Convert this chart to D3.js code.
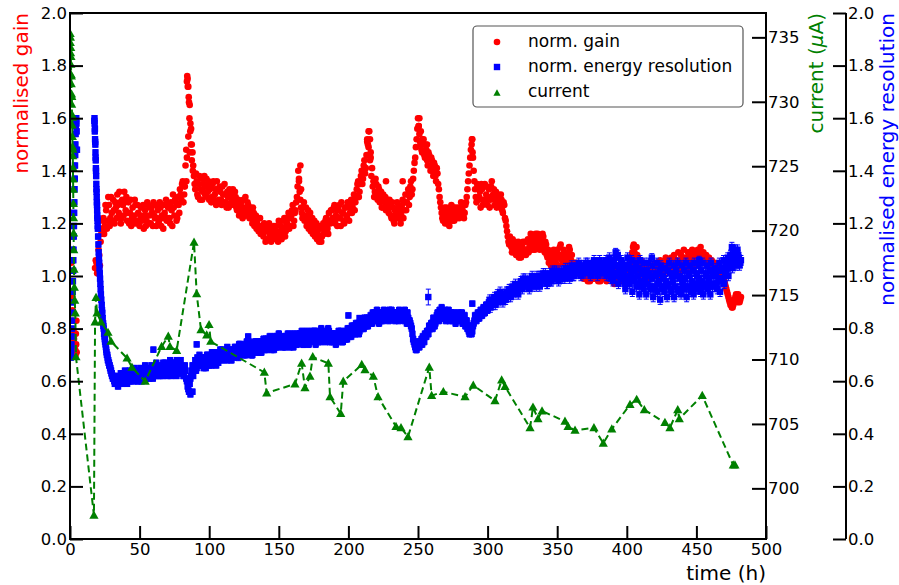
<!DOCTYPE html>
<html>
<head>
<meta charset="utf-8">
<script src="https://cdn.jsdelivr.net/npm/d3@7"></script>
<style>
  body { margin: 0; background: #fff; }
  svg { display: block; }
  text { font-family: "DejaVu Sans", sans-serif; }
</style>
</head>
<body>
<svg id="chart" width="899" height="585"></svg>
<script>
// ---------- tick labels ----------
const timeTicks = [0, 50, 100, 150, 200, 250, 300, 350, 400, 450, 500];
const normTicks = [0, 0.2, 0.4, 0.6, 0.8, 1.0, 1.2, 1.4, 1.6, 1.8, 2.0];
const currentTicks = [700, 705, 710, 715, 720, 725, 730, 735];

// ---------- normalised gain ----------
// first run, [time (h), gain]
const gainEarly = [[0.3,1.24],[0.6,1.15],[0.9,1.05],[1.2,0.98],[1.5,0.92],[1.8,0.87],[2.1,0.83],
  [2.5,0.79],[2.9,0.76],[3.3,0.74],[3.7,0.72],[4.0,0.70],[4.2,0.78],[4.4,0.74],[4.6,0.83],[4.8,0.71]];
// second run, readings on the hour starting at gainStart
const gainStart = 18;
const gainHourly = [
  1.03,1.05,1.02,1.08,1.13,1.18,1.22,1.19,1.25,1.21,
  1.27,1.22,1.24,1.29,1.20,1.26,1.31,1.24,1.28,1.22,
  1.27,1.32,1.25,1.21,1.28,1.24,1.19,1.26,1.23,1.27,
  1.21,1.24,1.19,1.26,1.22,1.18,1.25,1.21,1.27,1.23,
  1.20,1.24,1.28,1.22,1.19,1.25,1.21,1.26,1.23,1.18,
  1.24,1.29,1.22,1.27,1.20,1.25,1.31,1.23,1.28,1.22,
  1.27,1.33,1.29,1.36,1.31,1.42,1.74,1.72,1.65,1.56,
  1.47,1.38,1.33,1.36,1.30,1.38,1.33,1.29,1.35,1.31,
  1.37,1.32,1.29,1.34,1.30,1.36,1.31,1.27,1.33,1.29,
  1.32,1.27,1.31,1.35,1.28,1.32,1.26,1.30,1.28,1.33,
  1.27,1.30,1.25,1.29,1.24,1.28,1.22,1.26,1.30,1.23,
  1.27,1.22,1.25,1.20,1.24,1.21,1.18,1.22,1.19,1.16,
  1.19,1.15,1.18,1.14,1.17,1.20,1.15,1.18,1.14,1.17,
  1.19,1.15,1.21,1.17,1.14,1.18,1.22,1.17,1.20,1.24,
  1.19,1.23,1.27,1.21,1.25,1.30,1.40,1.32,1.26,1.22,
  1.28,1.23,1.19,1.25,1.21,1.17,1.22,1.18,1.15,1.20,
  1.16,1.13,1.18,1.15,1.20,1.17,1.22,1.18,1.24,1.20,
  1.25,1.21,1.27,1.23,1.19,1.25,1.22,1.28,1.24,1.20,
  1.26,1.22,1.27,1.24,1.29,1.26,1.31,1.28,1.33,1.36,
  1.32,1.38,1.35,1.42,1.39,1.46,1.50,1.55,1.47,1.41,
  1.36,1.32,1.35,1.29,1.33,1.30,1.26,1.31,1.28,1.25,
  1.29,1.24,1.27,1.22,1.26,1.20,1.24,1.28,1.22,1.26,
  1.23,1.29,1.25,1.31,1.28,1.33,1.30,1.36,1.33,1.40,
  1.45,1.52,1.60,1.54,1.50,1.47,1.52,1.45,1.48,1.42,
  1.46,1.40,1.44,1.38,1.42,1.36,1.39,1.33,1.28,1.24,
  1.21,1.26,1.23,1.20,1.25,1.22,1.27,1.24,1.21,1.26,
  1.23,1.26,1.24,1.28,1.25,1.22,1.27,1.30,1.36,1.42,
  1.48,1.52,1.40,1.33,1.28,1.34,1.30,1.26,1.33,1.29,
  1.35,1.31,1.27,1.33,1.29,1.36,1.31,1.27,1.32,1.28,
  1.30,1.26,1.29,1.24,1.27,1.21,1.17,1.13,1.15,1.11,
  1.14,1.09,1.12,1.08,1.13,1.10,1.07,1.11,1.09,1.13,
  1.10,1.14,1.11,1.16,1.12,1.15,1.10,1.13,1.16,1.12,
  1.14,1.11,1.15,1.09,1.12,1.07,1.05,1.09,1.06,1.04,
  1.08,1.05,1.10,1.07,1.11,1.08,1.05,1.09,1.06,1.04,
  1.07,1.10,1.06,1.03,1.05,1.02,1.04,1.01,1.03,1.00,
  1.02,0.99,1.03,1.01,0.98,1.02,1.00,1.03,0.99,1.01,
  1.04,1.00,1.02,0.98,1.01,1.03,0.99,1.02,1.00,1.04,
  1.01,0.99,1.02,0.97,1.00,1.03,0.99,1.01,0.98,1.02,
  1.00,1.03,1.01,1.04,1.00,1.06,1.09,1.12,1.08,1.11,
  1.07,1.04,1.06,1.02,1.05,1.01,1.04,1.00,1.03,1.01,
  1.04,1.00,1.02,1.05,1.01,1.03,1.06,1.02,1.05,1.03,
  1.07,1.04,1.06,1.03,1.07,1.05,1.08,1.04,1.06,1.09,
  1.05,1.08,1.06,1.10,1.07,1.05,1.09,1.06,1.08,1.10,
  1.07,1.09,1.06,1.10,1.08,1.11,1.07,1.09,1.06,1.08,
  1.05,1.07,1.04,1.06,1.03,1.05,1.02,1.04,1.01,1.03,
  1.00,1.02,0.98,0.96,0.94,0.92,0.90,0.89,0.88,0.90,
  0.92,0.91,0.93,0.90,0.92
];
// second run, readings on the half hour starting at gainStart + 0.5
const gainHalfHourly = [
  1.06,1.01,1.10,1.04,1.16,1.21,1.16,1.27,1.18,1.30,
  1.19,1.30,1.21,1.25,1.28,1.22,1.27,1.32,1.20,1.29,
  1.23,1.28,1.30,1.24,1.20,1.29,1.22,1.20,1.29,1.20,
  1.27,1.20,1.23,1.21,1.27,1.23,1.19,1.28,1.20,1.26,
  1.26,1.19,1.23,1.27,1.22,1.20,1.28,1.19,1.27,1.22,
  1.27,1.21,1.26,1.22,1.28,1.19,1.26,1.29,1.21,1.30,
  1.24,1.31,1.35,1.28,1.34,1.48,1.75,1.66,1.58,1.50,
  1.42,1.35,1.39,1.31,1.35,1.29,1.37,1.32,1.38,1.34,
  1.30,1.36,1.33,1.28,1.35,1.29,1.33,1.36,1.28,1.34,
  1.29,1.34,1.28,1.31,1.26,1.30,1.33,1.27,1.31,1.29,
  1.32,1.26,1.28,1.23,1.27,1.25,1.29,1.23,1.25,1.28,
  1.24,1.26,1.22,1.26,1.19,1.23,1.20,1.17,1.22,1.18,
  1.16,1.20,1.13,1.17,1.19,1.16,1.13,1.16,1.19,1.15,
  1.17,1.13,1.16,1.19,1.16,1.21,1.15,1.19,1.22,1.18,
  1.22,1.25,1.19,1.24,1.28,1.34,1.36,1.29,1.24,1.26,
  1.21,1.26,1.22,1.18,1.24,1.20,1.16,1.21,1.17,1.14,
  1.19,1.15,1.13,1.19,1.16,1.21,1.19,1.16,1.21,1.25,
  1.22,1.26,1.20,1.25,1.22,1.27,1.19,1.24,1.21,1.26,
  1.23,1.28,1.21,1.26,1.24,1.28,1.25,1.30,1.35,1.30,
  1.35,1.40,1.37,1.44,1.41,1.52,1.49,1.44,1.38,1.34,
  1.30,1.37,1.31,1.34,1.28,1.32,1.29,1.26,1.30,1.27,
  1.25,1.29,1.23,1.28,1.21,1.25,1.22,1.26,1.24,1.20,
  1.27,1.22,1.28,1.25,1.31,1.27,1.34,1.31,1.37,1.43,
  1.49,1.56,1.57,1.51,1.48,1.50,1.46,1.50,1.44,1.47,
  1.42,1.45,1.40,1.43,1.38,1.41,1.35,1.30,1.26,1.22,
  1.24,1.20,1.26,1.22,1.19,1.24,1.21,1.26,1.23,1.22,
  1.25,1.22,1.26,1.23,1.27,1.24,1.28,1.33,1.39,1.45,
  1.50,1.45,1.36,1.30,1.35,1.29,1.32,1.35,1.27,1.34,
  1.29,1.34,1.30,1.26,1.34,1.30,1.33,1.29,1.26,1.31,
  1.27,1.31,1.25,1.28,1.22,1.19,1.15,1.12,1.13,1.09,
  1.11,1.13,1.08,1.10,1.07,1.12,1.09,1.13,1.10,1.08,
  1.13,1.09,1.12,1.14,1.10,1.13,1.16,1.11,1.14,1.10,
  1.12,1.16,1.10,1.13,1.08,1.10,1.07,1.04,1.08,1.10,
  1.06,1.09,1.04,1.08,1.12,1.06,1.10,1.07,1.03,1.08,
  1.11,1.05,1.08,1.04,1.02,1.05,1.02,1.04,1.01,1.03,
  1.00,1.02,0.99,1.03,1.00,0.98,1.02,1.00,1.02,0.99,
  1.02,0.98,1.01,1.03,0.99,1.01,1.03,0.98,1.02,1.00,
  1.03,1.00,0.98,1.01,1.02,0.98,1.01,0.99,1.02,1.00,
  1.02,0.99,1.03,1.01,1.04,1.08,1.11,1.09,1.06,1.08,
  1.05,1.02,1.04,1.03,1.00,1.03,1.01,1.02,0.99,1.03,
  1.01,1.03,1.00,1.02,1.04,1.00,1.03,1.05,1.01,1.04,
  1.02,1.05,1.03,1.06,1.02,1.04,1.03,1.06,1.04,1.02,
  1.04,1.02,1.05,1.03,1.06,1.03,1.04,1.07,1.05,1.03,
  1.06,1.04,1.08,1.05,1.09,1.06,1.08,1.05,1.07,1.04,
  1.06,1.03,1.05,1.02,1.04,1.01,1.03,1.00,1.02,0.99,
  1.01,0.99,0.97,0.95,0.93,0.91,0.89,0.88,0.89,0.91,
  0.93,0.90,0.92,0.91
];
// extra readings inside the fast excursions, [time (h), gain]
const gainExtra = [[83.6,1.36],[84.0,1.45],[84.2,1.76],[84.6,1.72],[85.0,1.53],[85.3,1.68],[85.8,1.60],
  [86.0,1.47],[86.4,1.55],[86.9,1.50],[87.5,1.44],[88.2,1.40],[164.5,1.37],[165.5,1.42],[166.0,1.33],
  [213.5,1.51],[214.5,1.55],[215.5,1.52],[216.0,1.45],[227.0,1.36],[239.0,1.36],[250.5,1.57],[251.0,1.60],
  [252.0,1.55],[253.0,1.52],[288.7,1.52],[289.2,1.47],[256.5,1.50]];

// ---------- normalised energy resolution ----------
const resEarly = [[0.6,0.69],[0.75,0.70],[0.9,0.72],[1.05,0.74],[1.2,0.77],[1.35,0.80],[1.5,0.83],
  [1.65,0.86],[1.8,0.90],[1.95,0.94],[2.1,0.98],[2.25,1.02],[2.4,1.06],[2.55,1.10],[2.7,1.15],
  [2.85,1.19],[3.0,1.24],[3.15,1.28],[3.3,1.33],[3.45,1.37],[3.6,1.42],[3.75,1.46],[3.9,1.50],
  [4.05,1.54],[4.2,1.57],[4.35,1.59],[4.5,1.60],[4.65,1.58],[4.8,1.55],[5.0,1.48]];
const resDecay = [[17.5,1.59],[17.6,1.60],[17.7,1.58],[17.8,1.55],[17.9,1.56],[18.0,1.52],[18.1,1.51],
  [18.2,1.50],[18.3,1.47],[18.4,1.45],[18.5,1.44],[18.6,1.41],[18.7,1.40],[18.8,1.38],[18.9,1.35],
  [19.0,1.33],[19.1,1.32],[19.2,1.30],[19.3,1.28],[19.4,1.27],[19.5,1.25],[19.6,1.23],[19.7,1.22],
  [19.8,1.21],[19.9,1.19],[20.0,1.18],[20.2,1.15],[20.4,1.12],[20.6,1.09],[20.8,1.07],[21.0,1.05],
  [21.2,1.03],[21.4,1.01],[21.6,0.99],[21.8,0.97],[22.0,0.95],[22.2,0.93],[22.5,0.91],[22.8,0.89],
  [23.0,0.87],[23.2,0.86],[23.5,0.84],[23.8,0.82],[24.0,0.81],[24.2,0.80],[24.5,0.78],[24.8,0.77],
  [25.0,0.76],[25.2,0.75],[25.5,0.74],[25.8,0.73],[26.0,0.72],[26.2,0.71],[26.5,0.70],[26.8,0.70],
  [27.0,0.69],[27.2,0.68],[27.5,0.68],[27.8,0.67],[28.0,0.67],[28.2,0.66],[28.5,0.66],[28.8,0.65],
  [29.0,0.65],[29.2,0.64],[29.5,0.64],[29.8,0.63],[30.0,0.63],[30.2,0.62],[30.5,0.62],[30.8,0.61],
  [31.0,0.62],[31.2,0.61],[31.5,0.61],[31.8,0.60],[32.0,0.61],[32.2,0.59],[32.5,0.60],[32.8,0.59],
  [33.0,0.60],[33.3,0.59],[33.7,0.60]];
const resStart = 34;
const resHourly = [
  0.60,0.62,0.59,0.61,0.63,0.60,0.62,0.59,0.61,0.64,
  0.60,0.62,0.65,0.61,0.63,0.60,0.62,0.64,0.61,0.63,
  0.66,0.62,0.64,0.61,0.63,0.65,0.62,0.64,0.67,0.63,
  0.65,0.62,0.64,0.67,0.63,0.66,0.62,0.65,0.68,0.64,
  0.66,0.63,0.65,0.68,0.64,0.66,0.63,0.65,0.62,0.64,
  0.60,0.57,0.59,0.62,0.66,0.64,0.68,0.65,0.67,0.70,
  0.66,0.68,0.65,0.69,0.67,0.70,0.66,0.68,0.71,0.67,
  0.69,0.66,0.70,0.68,0.72,0.69,0.71,0.68,0.70,0.73,
  0.69,0.71,0.68,0.72,0.70,0.73,0.71,0.69,0.74,0.71,
  0.73,0.70,0.72,0.75,0.71,0.74,0.72,0.70,0.73,0.75,
  0.72,0.74,0.71,0.75,0.73,0.76,0.72,0.74,0.76,0.73,
  0.75,0.72,0.74,0.77,0.73,0.75,0.78,0.74,0.76,0.73,
  0.75,0.77,0.74,0.76,0.73,0.75,0.78,0.75,0.77,0.74,
  0.76,0.78,0.75,0.77,0.74,0.76,0.79,0.75,0.77,0.76,
  0.78,0.75,0.77,0.79,0.76,0.78,0.75,0.77,0.79,0.76,
  0.78,0.76,0.79,0.77,0.75,0.78,0.76,0.74,0.77,0.79,
  0.76,0.78,0.75,0.77,0.79,0.76,0.78,0.80,0.77,0.79,
  0.81,0.78,0.80,0.82,0.79,0.81,0.83,0.80,0.82,0.84,
  0.81,0.83,0.85,0.82,0.84,0.86,0.83,0.85,0.82,0.84,
  0.86,0.83,0.85,0.84,0.86,0.83,0.85,0.87,0.84,0.86,
  0.84,0.86,0.83,0.85,0.84,0.86,0.83,0.85,0.82,0.84,
  0.83,0.81,0.78,0.75,0.73,0.72,0.74,0.73,0.75,0.74,
  0.76,0.78,0.77,0.79,0.81,0.80,0.82,0.84,0.81,0.83,
  0.86,0.83,0.85,0.88,0.84,0.86,0.83,0.85,0.87,0.84,
  0.86,0.83,0.85,0.82,0.84,0.86,0.83,0.85,0.82,0.84,
  0.81,0.83,0.80,0.78,0.81,0.79,0.82,0.85,0.83,0.86,
  0.84,0.87,0.85,0.88,0.86,0.89,0.87,0.90,0.88,0.91,
  0.89,0.92,0.90,0.93,0.91,0.94,0.92,0.90,0.93,0.91,
  0.94,0.92,0.95,0.93,0.96,0.94,0.97,0.95,0.93,0.96,
  0.98,0.95,0.97,0.99,0.96,0.98,0.95,0.97,1.00,0.97,
  0.99,0.96,0.98,1.00,0.97,0.99,1.01,0.98,1.00,0.97,
  0.99,1.01,0.98,1.00,1.02,0.99,1.01,0.98,1.00,1.02,
  0.99,1.01,1.03,1.00,1.02,0.99,1.01,1.03,1.00,1.02,
  1.04,1.01,1.03,1.00,1.02,1.04,1.01,1.03,1.05,1.02,
  1.00,1.03,1.01,1.04,1.02,1.00,1.03,1.05,1.02,1.04,
  1.01,1.06,1.03,1.00,1.05,1.02,0.98,1.04,1.07,1.01,
  0.97,1.03,1.06,0.99,1.02,0.95,1.00,1.04,0.97,1.01,
  0.94,0.99,1.03,0.96,1.00,0.93,0.98,1.02,0.95,0.99,
  0.93,0.97,1.01,0.95,0.99,0.92,0.96,1.00,0.94,0.98,
  0.91,0.96,1.00,0.94,0.98,0.92,0.97,1.01,0.94,0.98,
  0.92,0.96,1.00,0.94,0.99,0.93,0.97,0.95,0.99,0.92,
  0.96,1.00,0.94,0.98,0.93,0.97,1.01,0.95,0.99,0.94,
  0.98,0.93,0.97,1.00,0.95,0.99,0.93,0.97,1.01,0.96,
  1.00,0.95,0.99,0.94,0.98,1.02,0.97,1.01,1.04,1.00,
  1.05,1.08,1.03,1.07,1.10,1.05,1.08,1.04,1.06
];
const resHalfHourly = [
  0.58,0.61,0.63,0.59,0.62,0.64,0.60,0.63,0.60,0.62,
  0.63,0.60,0.62,0.64,0.60,0.63,0.65,0.60,0.64,0.62,
  0.61,0.65,0.62,0.64,0.66,0.61,0.64,0.62,0.65,0.62,
  0.63,0.66,0.62,0.65,0.67,0.63,0.66,0.64,0.62,0.67,
  0.64,0.67,0.62,0.66,0.63,0.68,0.64,0.62,0.66,0.61,
  0.58,0.56,0.61,0.64,0.62,0.66,0.64,0.69,0.66,0.68,
  0.69,0.66,0.68,0.65,0.70,0.67,0.69,0.66,0.70,0.68,
  0.67,0.71,0.67,0.70,0.68,0.72,0.69,0.71,0.68,0.71,
  0.72,0.68,0.71,0.69,0.73,0.70,0.72,0.74,0.70,0.72,
  0.71,0.74,0.70,0.73,0.75,0.72,0.70,0.74,0.72,0.71,
  0.75,0.72,0.74,0.71,0.75,0.73,0.76,0.72,0.74,0.77,
  0.73,0.76,0.72,0.75,0.77,0.73,0.76,0.74,0.77,0.75,
  0.73,0.76,0.78,0.74,0.77,0.75,0.73,0.77,0.74,0.78,
  0.75,0.77,0.79,0.74,0.78,0.75,0.77,0.74,0.78,0.79,
  0.76,0.79,0.74,0.78,0.75,0.77,0.80,0.76,0.78,0.75,
  0.77,0.80,0.75,0.78,0.77,0.75,0.78,0.76,0.75,0.78,
  0.79,0.75,0.78,0.76,0.78,0.80,0.77,0.79,0.81,0.78,
  0.79,0.82,0.80,0.78,0.82,0.80,0.81,0.84,0.81,0.83,
  0.84,0.82,0.83,0.86,0.83,0.85,0.87,0.84,0.86,0.83,
  0.84,0.87,0.84,0.86,0.85,0.87,0.84,0.86,0.85,0.83,
  0.86,0.84,0.87,0.84,0.86,0.85,0.87,0.84,0.86,0.83,
  0.82,0.80,0.76,0.74,0.72,0.73,0.75,0.74,0.76,0.77,
  0.75,0.77,0.79,0.78,0.80,0.82,0.80,0.83,0.82,0.85,
  0.84,0.87,0.84,0.86,0.85,0.87,0.84,0.86,0.83,0.86,
  0.84,0.86,0.83,0.85,0.83,0.85,0.84,0.86,0.83,0.85,
  0.82,0.80,0.79,0.80,0.78,0.81,0.83,0.84,0.85,0.84,
  0.86,0.85,0.87,0.86,0.88,0.87,0.89,0.91,0.89,0.90,
  0.91,0.89,0.92,0.90,0.93,0.91,0.93,0.92,0.91,0.94,
  0.93,0.95,0.92,0.95,0.93,0.96,0.94,0.96,0.95,0.97,
  0.96,0.99,0.96,0.97,0.98,0.96,0.99,0.98,0.96,0.99,
  0.97,1.00,0.98,0.96,1.00,0.98,0.99,1.01,0.97,1.00,
  1.00,0.98,1.02,0.99,1.00,1.02,0.99,1.01,0.99,1.00,
  1.02,0.99,1.01,1.03,1.00,1.02,1.04,1.00,1.03,1.01,
  1.02,1.05,1.02,1.04,1.01,1.03,1.05,1.02,1.03,1.04,
  1.02,1.04,1.06,1.01,1.04,1.02,1.06,1.01,1.04,1.02,
  1.05,1.00,1.04,1.07,0.99,1.03,1.06,1.00,1.04,1.08,
  1.02,0.99,1.05,1.01,0.97,1.04,1.07,0.99,1.03,1.06,
  0.98,1.02,1.05,0.97,1.03,1.06,0.96,1.01,1.05,0.97,
  1.02,1.05,0.96,1.00,1.04,0.95,1.01,1.05,0.97,1.02,
  1.04,0.95,0.99,1.03,0.96,1.02,1.05,0.95,1.00,1.04,
  0.96,1.02,1.05,0.95,1.00,1.04,0.97,1.02,1.05,0.96,
  1.01,1.04,0.96,1.02,1.05,0.95,1.00,1.04,0.97,1.02,
  1.05,0.96,1.01,1.04,0.97,1.02,1.05,0.96,1.00,1.03,
  0.97,1.02,1.05,0.98,1.03,1.06,1.00,1.05,1.07,1.03,
  1.08,1.11,1.06,1.09,1.04,1.10,1.07,1.05
];
// isolated readings, [time (h), resolution, error]
const resExtra = [[59.9,0.72,0.01],[86.5,0.55,0.01],[88.0,0.56,0.01],[91.0,0.74,0.01],[128.0,0.77,0.01],
  [200.0,0.85,0.01],[208.0,0.84,0.01],[257.4,0.92,0.03],[289.0,0.895,0.01],
  [392.0,1.09,0.015],[418.0,1.07,0.015],[452.0,1.06,0.015]];
// typical error bar half-height per period, [until time (h), error]
const resErrSteps = [[120, 0.010], [300, 0.012], [500, 0.018]];

// ---------- beam current (µA), [time (h), current] ----------
const currentData = [
  [0.1,735.3],[0.2,734.6],[0.3,735.0],[0.4,733.8],[0.5,734.2],[0.6,732.9],[0.7,733.5],[0.8,732.1],
  [0.9,731.4],[1.0,732.0],[1.1,730.6],[1.2,729.8],[1.3,730.4],[1.4,729.0],[1.5,728.2],[1.6,728.8],
  [1.7,727.3],[1.8,726.5],[1.9,725.8],[2.0,726.3],[2.1,724.9],[2.2,724.0],[2.3,723.2],[2.4,722.1],
  [2.5,721.0],[2.6,719.8],[2.7,718.5],[2.9,717.0],[3.1,715.6],[3.4,714.6],[3.8,713.6],[4.3,710.2],
  [17.2,697.9],[18.0,712.9],[18.7,714.8],[19.4,713.6],[22.3,712.9],[27.3,712.1],[29.5,711.4],
  [41.0,710.1],[44.5,709.4],[54.0,708.3],[65.8,711.0],[70.6,711.8],[71.8,711.0],[76.6,710.7],
  [89.1,719.1],[91.0,715.1],[94.1,712.3],[98.2,711.9],[99.9,712.7],[101.1,711.4],[139.6,709.0],
  [141.3,707.4],[161.6,708.1],[166.4,709.7],[168.8,707.8],[172.4,708.7],[174.4,710.2],[185.6,709.7],
  [186.8,707.1],[194.5,705.8],[196.3,708.3],[209.6,709.6],[211.9,709.2],[217.9,708.7],[221.3,707.1],
  [234.2,704.8],[237.8,704.7],[242.8,704.0],[258.1,709.4],[259.8,707.2],[268.2,707.5],[283.8,707.1],
  [289.7,708.0],[305.3,706.8],[310.1,708.4],[312.5,707.9],[330.5,704.7],[332.6,706.3],[336.2,705.4],
  [339.1,706.0],[355.6,705.2],[357.8,704.8],[362.8,704.5],[376.4,704.7],[383.1,703.5],[389.2,704.6],
  [402.3,706.5],[407.1,706.9],[412.6,706.1],[427.4,705.1],[431.0,704.7],[436.6,706.1],[437.7,705.4],
  [454.2,707.2],[476.5,701.8],[477.7,701.8]
];

// ---------- layout ----------
const RED = "#ff0000", BLUE = "#0000ff", GREEN = "#008000";
const plot = { left: 70, right: 766, top: 13, bottom: 539 };
const outerAxisX = 846;

const svg = d3.select("#chart");

const x = d3.scaleLinear().domain([0, 500]).range([plot.left, plot.right]);
const yGain = d3.scaleLinear().domain([0, 2]).range([plot.bottom, plot.top]);
const yRes = d3.scaleLinear().domain([0, 2]).range([plot.bottom, plot.top]);
const yCur = d3.scaleLinear().domain([696.07, 736.89]).range([plot.bottom, plot.top]);

svg.append("defs").append("clipPath").attr("id", "plotclip")
  .append("rect").attr("x", plot.left).attr("y", plot.top)
  .attr("width", plot.right - plot.left).attr("height", plot.bottom - plot.top);

const layer = svg.append("g").attr("clip-path", "url(#plotclip)");

// gain points
const gainPts = [
  ...gainEarly,
  ...gainHourly.map((v, i) => [gainStart + i, v]),
  ...gainHalfHourly.map((v, i) => [gainStart + 0.5 + i, v]),
  ...gainExtra
];
layer.append("g").selectAll("circle").data(gainPts).join("circle")
  .attr("cx", d => x(d[0])).attr("cy", d => yGain(d[1])).attr("r", 3.3)
  .attr("fill", RED);

// resolution points with error bars
const errAt = t => resErrSteps.find(s => t <= s[0])[1];
const resPts = [
  ...resEarly.map(d => [d[0], d[1], errAt(d[0])]),
  ...resDecay.map(d => [d[0], d[1], errAt(d[0])]),
  ...resHourly.map((v, i) => [resStart + i, v, errAt(resStart + i)]),
  ...resHalfHourly.map((v, i) => [resStart + 0.5 + i, v, errAt(resStart + 0.5 + i)]),
  ...resExtra
];
const eb = layer.append("g").attr("stroke", BLUE).attr("stroke-width", 1);
resPts.forEach(d => {
  const cx = x(d[0]), y1 = yRes(d[1] - d[2]), y2 = yRes(d[1] + d[2]);
  eb.append("line").attr("x1", cx).attr("x2", cx).attr("y1", y1).attr("y2", y2);
  eb.append("line").attr("x1", cx - 2.5).attr("x2", cx + 2.5).attr("y1", y1).attr("y2", y1);
  eb.append("line").attr("x1", cx - 2.5).attr("x2", cx + 2.5).attr("y1", y2).attr("y2", y2);
});
layer.append("g").selectAll("rect").data(resPts).join("rect")
  .attr("x", d => x(d[0]) - 3.2).attr("y", d => yRes(d[1]) - 3.2)
  .attr("width", 6.4).attr("height", 6.4).attr("fill", BLUE);

// current: dashed line + triangles
const triPath = "M0,-4.8L4.6,3.4L-4.6,3.4Z";
layer.append("path").datum(currentData)
  .attr("d", d3.line().x(d => x(d[0])).y(d => yCur(d[1])))
  .attr("fill", "none").attr("stroke", GREEN).attr("stroke-width", 2)
  .attr("stroke-dasharray", "7,4");
layer.append("g").selectAll("path").data(currentData).join("path")
  .attr("d", triPath)
  .attr("transform", d => `translate(${x(d[0])},${yCur(d[1])})`)
  .attr("fill", GREEN);

// ---------- axes ----------
const fmt1 = d3.format(".1f");
function styleAxis(g, fontSize) {
  g.select(".domain").remove();
  g.selectAll(".tick line").attr("stroke", "#000").attr("stroke-width", 2);
  g.selectAll(".tick text").attr("fill", "#000").attr("font-size", fontSize)
    .attr("font-family", "DejaVu Sans, sans-serif");
}

svg.append("g").attr("transform", `translate(${plot.left},0)`)
  .call(d3.axisLeft(yGain).tickValues(normTicks).tickFormat(fmt1)
    .tickSizeInner(-13).tickSizeOuter(0).tickPadding(3))
  .call(g => styleAxis(g, 16.5));

svg.append("g").attr("transform", `translate(0,${plot.bottom})`)
  .call(d3.axisBottom(x).tickValues(timeTicks).tickFormat(d3.format("d"))
    .tickSizeInner(-13).tickSizeOuter(0).tickPadding(4))
  .call(g => styleAxis(g, 16.5));

svg.append("g").attr("transform", `translate(${plot.right},0)`)
  .call(d3.axisRight(yCur).tickValues(currentTicks).tickFormat(d3.format("d"))
    .tickSizeInner(-14).tickSizeOuter(0).tickPadding(2))
  .call(g => styleAxis(g, 16.5));

svg.append("g").attr("transform", `translate(${outerAxisX},0)`)
  .call(d3.axisRight(yRes).tickValues(normTicks).tickFormat(fmt1)
    .tickSizeInner(-13).tickSizeOuter(0).tickPadding(2))
  .call(g => styleAxis(g, 16.5));

// spines
const spines = svg.append("g").attr("stroke", "#000").attr("stroke-width", 2).attr("fill", "none");
spines.append("rect").attr("x", plot.left).attr("y", plot.top)
  .attr("width", plot.right - plot.left).attr("height", plot.bottom - plot.top);
spines.append("line").attr("x1", outerAxisX).attr("x2", outerAxisX)
  .attr("y1", plot.top).attr("y2", plot.bottom);

// ---------- axis titles ----------
svg.append("text").attr("transform", `translate(28,${plot.top}) rotate(-90)`)
  .attr("text-anchor", "end").attr("font-size", 20).attr("fill", RED)
  .text("normalised gain");

const curLabel = svg.append("text").attr("transform", `translate(823,${plot.top}) rotate(-90)`)
  .attr("text-anchor", "end").attr("font-size", 20).attr("fill", GREEN);
curLabel.append("tspan").text("current (");
curLabel.append("tspan").attr("font-style", "italic").text("μ");
curLabel.append("tspan").text("A)");

svg.append("text").attr("transform", `translate(894,${plot.top}) rotate(-90)`)
  .attr("text-anchor", "end").attr("font-size", 20).attr("fill", BLUE)
  .text("normalised energy resolution");

svg.append("text").attr("x", plot.right).attr("y", 580)
  .attr("text-anchor", "end").attr("font-size", 20).attr("fill", "#000")
  .text("time (h)");

// ---------- legend ----------
const legend = svg.append("g");
legend.append("rect").attr("x", 473).attr("y", 26).attr("width", 270).attr("height", 81)
  .attr("rx", 4).attr("fill", "#fff").attr("stroke", "#555").attr("stroke-width", 1.2);
const legendItems = [
  { label: "norm. gain", kind: "circle", color: RED },
  { label: "norm. energy resolution", kind: "square", color: BLUE },
  { label: "current", kind: "triangle", color: GREEN }
];
legendItems.forEach((it, i) => {
  const base = 47 + i * 25;
  const my = base - 5;
  if (it.kind === "circle") {
    legend.append("circle").attr("cx", 497).attr("cy", my).attr("r", 3.3).attr("fill", it.color);
  } else if (it.kind === "square") {
    legend.append("rect").attr("x", 497 - 3.2).attr("y", my - 3.2).attr("width", 6.4).attr("height", 6.4)
      .attr("fill", it.color);
  } else {
    legend.append("path").attr("d", "M0,-3.8L3.6,2.7L-3.6,2.7Z")
      .attr("transform", `translate(497,${my + 1})`).attr("fill", it.color);
  }
  legend.append("text").attr("x", 528).attr("y", base).attr("font-size", 17).attr("fill", "#000")
    .text(it.label);
});
</script>
</body>
</html>
